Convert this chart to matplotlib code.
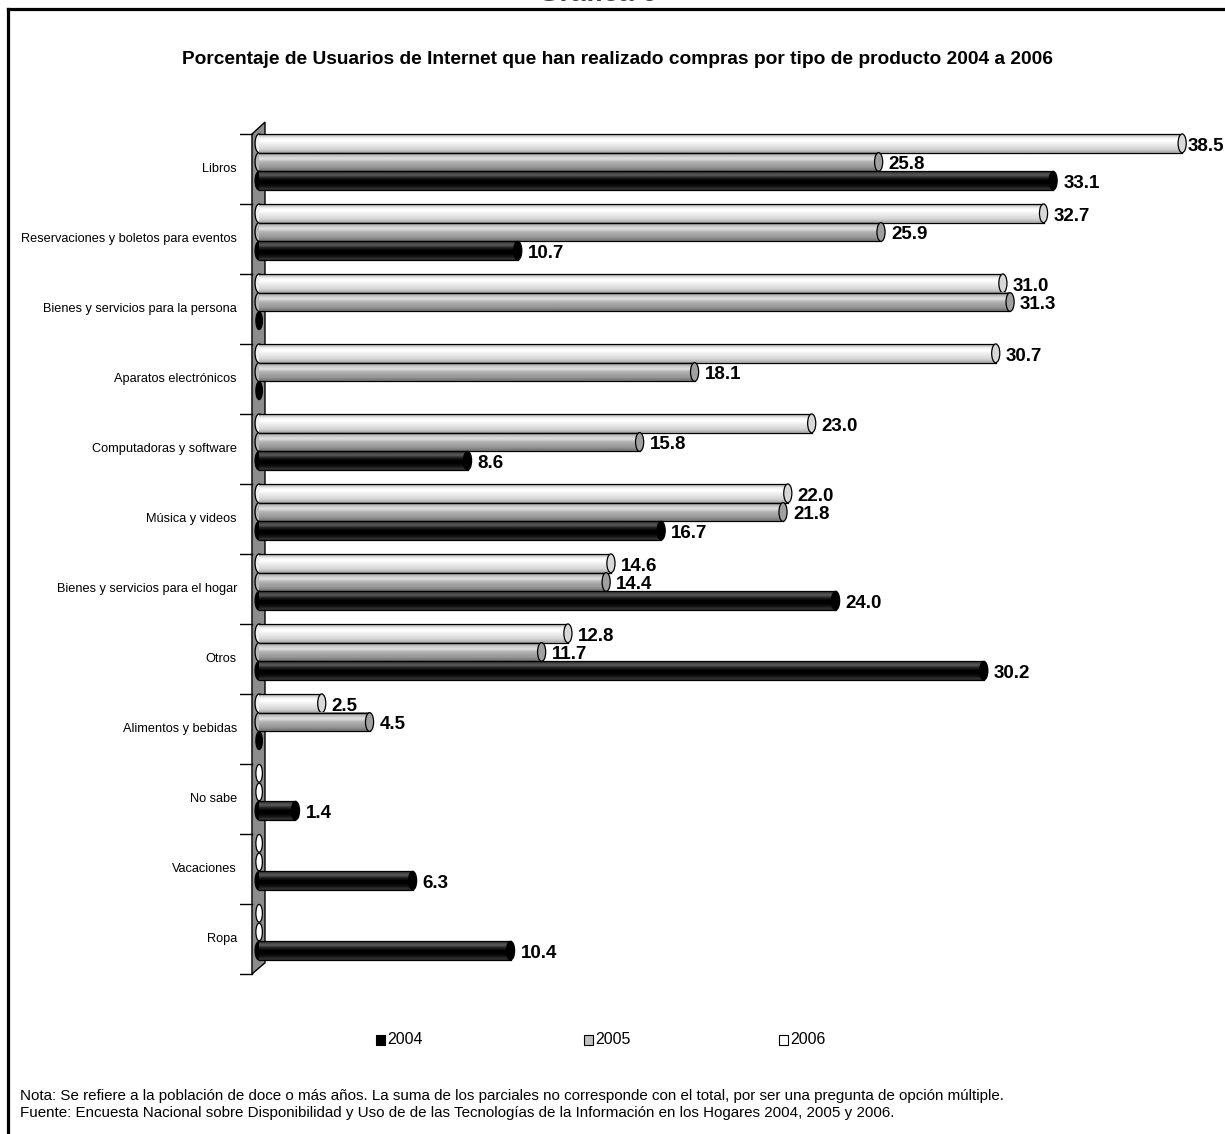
import numpy as np
import matplotlib
matplotlib.use("Agg")
import matplotlib.pyplot as plt
from matplotlib.patches import Polygon, Ellipse, Rectangle
from matplotlib.lines import Line2D
from matplotlib.colors import to_rgb

# ---- data -------------------------------------------------------------
categories = [
    "Libros",
    "Reservaciones y boletos para eventos",
    "Bienes y servicios para la persona",
    "Aparatos electrónicos",
    "Computadoras y software",
    "Música y videos",
    "Bienes y servicios para el hogar",
    "Otros",
    "Alimentos y bebidas",
    "No sabe",
    "Vacaciones",
    "Ropa",
]
years = ["2004", "2005", "2006"]
values_2004 = [33.1, 10.7, 0.0, 0.0, 8.6, 16.7, 24.0, 30.2, 0.0, 1.4, 6.3, 10.4]
values_2005 = [25.8, 25.9, 31.3, 18.1, 15.8, 21.8, 14.4, 11.7, 4.5, 0.0, 0.0, 0.0]
values_2006 = [38.5, 32.7, 31.0, 30.7, 23.0, 22.0, 14.6, 12.8, 2.5, 0.0, 0.0, 0.0]

title = ("Porcentaje de Usuarios de Internet que han realizado compras "
         "por tipo de producto 2004 a 2006")
note = ("Nota: Se refiere a la población de doce o más años. La suma de los parciales "
        "no corresponde con el total, por ser una pregunta de opción múltiple.")
source = ("Fuente: Encuesta Nacional sobre Disponibilidad y Uso de de las Tecnologías "
          "de la Información en los Hogares 2004, 2005 y 2006.")

# ---- styling ----------------------------------------------------------
W, H = 1225, 1134
SANS = ["Liberation Sans", "DejaVu Sans"]
plt.rcParams["font.family"] = SANS

# colour stops (top -> bottom) of each cylinder, shading gives the 3-D look
shade = {
    "2004": ["#3a3a3a", "#5a5a5a", "#202020", "#000000", "#000000", "#101010", "#303030"],
    "2005": ["#8a8a8a", "#c8c8c8", "#e0e0e0", "#b8b8b8", "#a4a4a4", "#9a9a9a", "#7c7c7c"],
    "2006": ["#c0c0c0", "#f6f6f6", "#ffffff", "#f0f0f0", "#e2e2e2", "#d6d6d6", "#b4b4b4"],
}
cap_face = {"2004": "#000000", "2005": "#a0a0a0", "2006": "#d8d8d8"}
zero_face = {"2004": "#000000", "2005": "#ffffff", "2006": "#ffffff"}

bar_h = 0.267                     # bar thickness in category units
offsets = {"2006": -0.367, "2005": -0.100, "2004": 0.167}
series = {"2004": values_2004, "2005": values_2005, "2006": values_2006}

fig = plt.figure(figsize=(W / 100, H / 100), dpi=100)
renderer = fig.canvas.get_renderer()

# plot area: x = 0 sits on the wall, 23.9 px per percentage point
px_per_unit = 23.9
x0_px, xmin = 262, -0.92
ax_left_px = x0_px + xmin * px_per_unit
xmax = 40.0
ax_w_px = (xmax - xmin) * px_per_unit
ytop, ybot = -0.70, 11.53
ax_top_px = 120
ax_h_px = (ybot - ytop) * 70
ax = fig.add_axes([ax_left_px / W, 1 - (ax_top_px + ax_h_px) / H, ax_w_px / W, ax_h_px / H])
ax.set_xlim(xmin, xmax)
ax.set_ylim(ybot, ytop)
ax.axis("off")

# side wall of the category axis
wall = Polygon([(-0.42, -0.5), (0.125, -0.67), (0.125, 11.34), (-0.42, 11.5)],
               closed=True, facecolor="#8c8c8c", edgecolor="black", lw=1.0, zorder=1)
ax.add_patch(wall)
for k in range(len(categories) + 1):
    ax.add_line(Line2D([xmin, -0.42], [k - 0.5, k - 0.5], color="black", lw=1.0, zorder=1))

cap_w = 0.34
start = -0.12
label_gap = 0.42


def gradient(colors):
    rgb = np.array([to_rgb(c) for c in colors])
    return rgb[:, None, :]


for i, cat in enumerate(categories):
    ax.text(-1.05, i, cat, ha="right", va="center", fontsize=9.2)
    for yr in ["2006", "2005", "2004"]:
        v = series[yr][i]
        yc = i + offsets[yr]
        y1, y2 = yc - bar_h / 2, yc + bar_h / 2
        if v <= 0:
            ax.add_patch(Ellipse((start, yc), cap_w * 0.8, bar_h * 0.95,
                                 facecolor=zero_face[yr], edgecolor="black",
                                 lw=0.9, zorder=3 + i * 0.01))
            continue
        z = 3 + i * 0.01 + {"2006": 0, "2005": 0.001, "2004": 0.002}[yr]
        # left rounded end
        ax.add_patch(Ellipse((start, yc), cap_w, bar_h, facecolor=shade[yr][3],
                             edgecolor="black", lw=0.9, zorder=z))
        # body with cylindrical shading
        ax.imshow(gradient(shade[yr]), extent=[start, v, y2, y1], aspect="auto",
                  interpolation="bilinear", zorder=z + 0.0002)
        ax.add_line(Line2D([start, v], [y1, y1], color="black", lw=0.9, zorder=z + 0.0003))
        ax.add_line(Line2D([start, v], [y2, y2], color="black", lw=0.9, zorder=z + 0.0003))
        # right end cap
        ax.add_patch(Ellipse((v, yc), cap_w, bar_h, facecolor=cap_face[yr],
                             edgecolor="black", lw=0.9, zorder=z + 0.0004))
        t = ax.text(v + label_gap, yc + 0.04, f"{v:.1f}", ha="left", va="center",
                    fontsize=13.5, fontweight="bold", zorder=10)
        # keep the value inside the figure: pull it back toward the cap if needed
        ext = t.get_window_extent(renderer)
        over = ext.x1 - (W - 1)
        if over > 0:
            shift = min(over / px_per_unit, label_gap - cap_w / 2)
            t.set_x(v + label_gap - shift)

ax.set_xlim(xmin, xmax)
ax.set_ylim(ybot, ytop)

# headline partly above the frame, title and notes
fig.text(598 / W, 1 - 0.6 / H, "Gráfica 6", ha="center", va="baseline",
         fontsize=20, fontweight="bold", color="#404040")
fig.text(617 / W, 1 - 60 / H, title, ha="center", va="center",
         fontsize=13.8, fontweight="bold")

legend_items = [("2004", "#000000", 376), ("2005", "#c0c0c0", 584), ("2006", "#ffffff", 779)]
for lab, col, xpx in legend_items:
    fig.patches.append(Rectangle(
        (xpx / W, 1 - 1045 / H), 9 / W, 10 / H, transform=fig.transFigure,
        facecolor=col, edgecolor="black", lw=0.8))
    fig.text((xpx + 11) / W, 1 - 1040 / H, lab, ha="left", va="center", fontsize=11.5)

fig.text(20 / W, 1 - 1096 / H, note, ha="left", va="center", fontsize=10.9)
fig.text(20 / W, 1 - 1113 / H, source, ha="left", va="center", fontsize=10.9)

# outer frame (top and left edges)
fig.add_artist(Line2D([8 / W, 1], [1 - 9 / H, 1 - 9 / H], transform=fig.transFigure,
                      color="black", lw=2.3))
fig.add_artist(Line2D([8 / W, 8 / W], [0, 1 - 9 / H], transform=fig.transFigure,
                      color="black", lw=2.3))

fig.savefig("out.png", dpi=100)
